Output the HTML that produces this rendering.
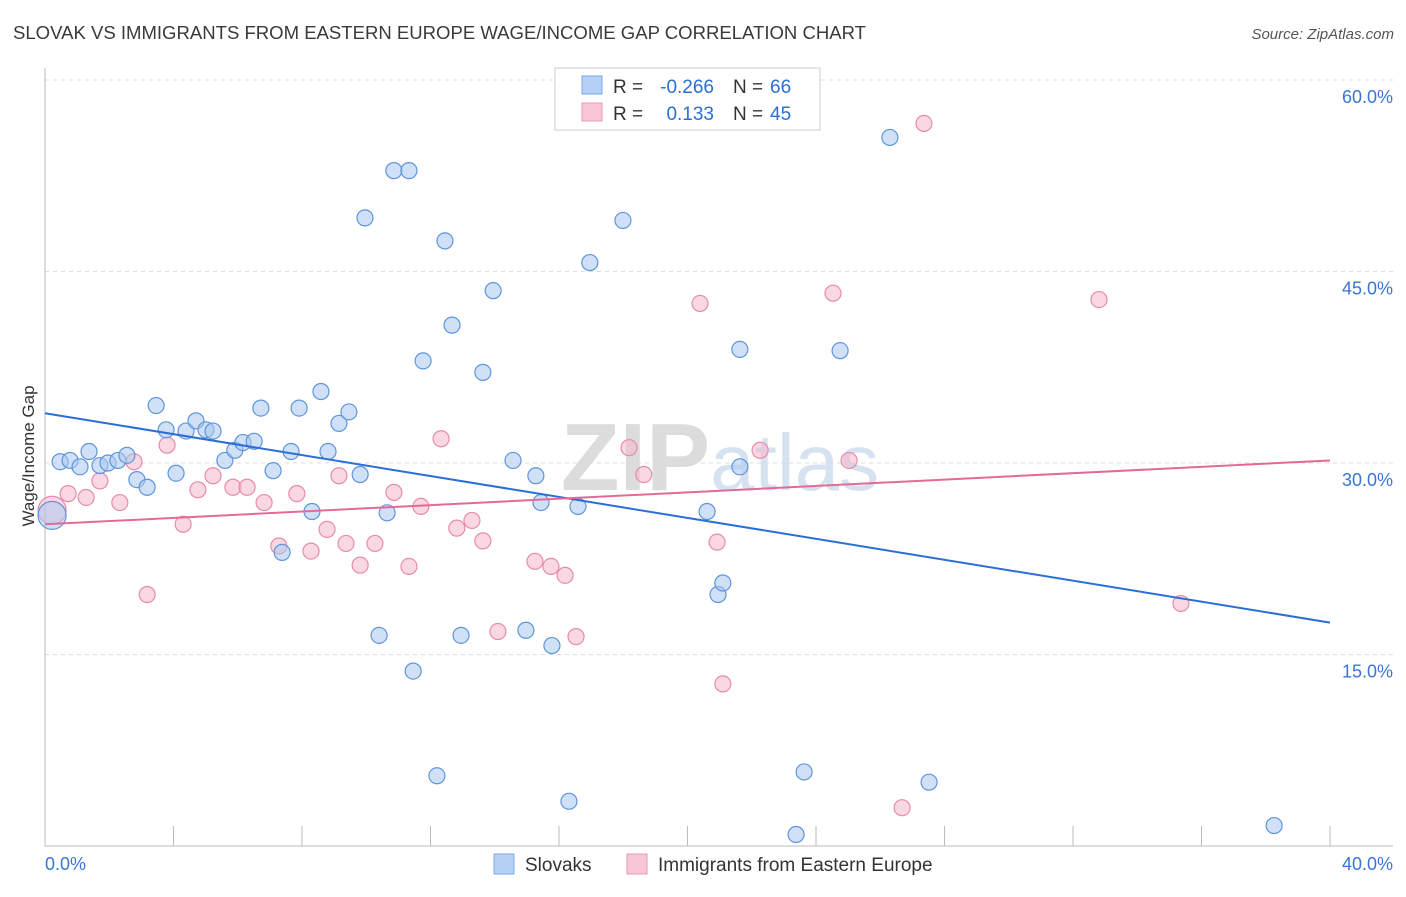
<!DOCTYPE html>
<html><head><meta charset="utf-8"><style>
body{margin:0;background:#fff;font-family:"Liberation Sans",sans-serif;}
svg text{font-family:"Liberation Sans",sans-serif;}
</style></head><body>
<svg id="chart" width="1406" height="892" xmlns="http://www.w3.org/2000/svg">
<text x="13" y="39" font-size="18.5" fill="#3a3a3a" textLength="853" lengthAdjust="spacingAndGlyphs">SLOVAK VS IMMIGRANTS FROM EASTERN EUROPE WAGE/INCOME GAP CORRELATION CHART</text>
<text x="1394" y="39" font-size="15" fill="#555" text-anchor="end" font-style="italic">Source: ZipAtlas.com</text>
<text x="720" y="490" font-size="96" fill="#e4e4e4" text-anchor="middle" font-family="Liberation Serif"><tspan font-weight="bold" fill="#dcdcdc">ZIP</tspan><tspan fill="#d6e2f0" font-family="Liberation Sans" font-size="80">atlas</tspan></text>
<g id="grid"></g>
<g id="axes"></g>
<g id="marks"></g>
<text transform="translate(34,456) rotate(-90)" font-size="17" fill="#333" text-anchor="middle">Wage/Income Gap</text>
<g font-size="19">
<rect x="555" y="68" width="265" height="62" fill="#fff" stroke="#ccc"/>
<rect x="582" y="76" width="20" height="18" fill="#b5d0f4" stroke="#7aa8e6"/>
<text x="613" y="93" fill="#333">R =</text>
<text x="714" y="93" fill="#2a6fd6" text-anchor="end">-0.266</text>
<text x="733" y="93" fill="#333">N =</text>
<text x="770" y="93" fill="#2a6fd6">66</text>
<rect x="582" y="103" width="20" height="18" fill="#f8c6d6" stroke="#ee9ab5"/>
<text x="613" y="120" fill="#333">R =</text>
<text x="714" y="120" fill="#2a6fd6" text-anchor="end">0.133</text>
<text x="733" y="120" fill="#333">N =</text>
<text x="770" y="120" fill="#2a6fd6">45</text>
</g>
<g>
<rect x="494" y="854" width="20" height="20" fill="#b5d0f4" stroke="#7aa8e6"/>
<text x="525" y="871" font-size="19" fill="#333">Slovaks</text>
<rect x="627" y="854" width="20" height="20" fill="#f8c6d6" stroke="#ee9ab5"/>
<text x="658" y="871" font-size="19" fill="#333">Immigrants from Eastern Europe</text>
</g>
</svg>
<script>
const slovakX=[0.22,0.47,0.78,1.09,1.37,1.71,1.96,2.27,2.55,2.86,3.18,3.46,3.77,4.08,4.39,4.70,5.01,5.23,5.60,5.91,6.16,6.51,6.72,7.10,7.38,7.66,7.91,8.31,8.59,8.81,9.15,9.46,9.81,9.96,10.40,10.65,10.86,11.33,11.46,11.77,12.20,12.45,12.67,12.95,13.63,13.95,14.57,14.97,15.28,15.44,15.78,16.31,16.59,16.96,17.99,20.61,20.95,21.10,21.63,21.63,23.38,23.63,24.75,26.30,27.52,38.26];
const slovakY=[25.9,30.1,30.2,29.7,30.9,29.8,30.0,30.2,30.6,28.7,28.1,34.5,32.6,29.2,32.5,33.3,32.6,32.5,30.2,31.0,31.6,31.7,34.3,29.4,23.0,30.9,34.3,26.2,35.6,30.9,33.1,34.0,29.1,49.2,16.5,26.1,52.9,52.9,13.7,38.0,5.5,47.4,40.8,16.5,37.1,43.5,30.2,16.9,29.0,26.9,15.7,3.5,26.6,45.7,49.0,26.2,19.7,20.6,29.7,38.9,0.9,5.8,38.8,55.5,5.0,1.6];
const immX=[0.22,0.72,1.28,1.71,2.33,2.77,3.18,3.80,4.30,4.76,5.23,5.85,6.29,6.82,7.28,7.84,8.28,8.78,9.15,9.37,9.81,10.27,10.86,11.33,11.70,12.33,12.82,13.29,13.63,14.10,15.25,15.75,16.19,16.53,18.18,18.64,20.39,20.92,21.10,22.26,24.53,25.03,26.68,27.36,32.81,35.36];
const immY=[26.3,27.6,27.3,28.6,26.9,30.1,19.7,31.4,25.2,27.9,29.0,28.1,28.1,26.9,23.5,27.6,23.1,24.8,29.0,23.7,22.0,23.7,27.7,21.9,26.6,31.9,24.9,25.5,23.9,16.8,22.3,21.9,21.2,16.4,31.2,29.1,42.5,23.8,12.7,31.0,43.3,30.2,3.0,56.6,42.8,19.0];
const slovakTrend=[33.9,17.5];
const immTrend=[25.2,30.2];
const yTicks=[15,30,45,60];
const yTickLabels=["15.0%","30.0%","45.0%","60.0%"];
const xTickLabels=["0.0%","40.0%"];

const NS="http://www.w3.org/2000/svg";
const X0=45,X1=1330,Y0=846;
function sx(v){return X0+(X1-X0)*v/40;}
function sy(v){return Y0-v*(191.5/15);}
function mk(tag,attrs,parent){const e=document.createElementNS(NS,tag);for(const k in attrs)e.setAttribute(k,attrs[k]);parent.appendChild(e);return e;}
const grid=document.getElementById('grid'),axes=document.getElementById('axes'),marks=document.getElementById('marks');
yTicks.forEach((t,i)=>{
  const l=mk('line',{x1:45,x2:1393,y1:sy(t),y2:sy(t),stroke:'#ddd','stroke-dasharray':'4,4'},grid);
  
  
  const tx=mk('text',{x:1393,y:sy(t)+23,'font-size':18,fill:'#3a76d0','text-anchor':'end'},axes);
  tx.textContent=yTickLabels[i];
  
  
});
const al=mk('line',{x1:45,x2:45,y1:68,y2:846,stroke:'#bbb'},axes);


const bl=mk('line',{x1:45,x2:1393,y1:846,y2:846,stroke:'#bbb'},axes);


for(let i=0;i<=10;i++){
  const t=mk('line',{x1:sx(i*4),x2:sx(i*4),y1:826,y2:846,stroke:'#bbb'},axes);
  
  
}
[[0,'start',45],[40,'end',1393]].forEach((d,i)=>{
  const tx=mk('text',{x:d[2],y:870,'font-size':18,fill:'#3a76d0','text-anchor':d[1]},axes);
  tx.textContent=xTickLabels[i];
  
  
});
function series(xs,ys,fill,stroke,name){
  xs.forEach((x,i)=>{
    const c=mk('circle',{cx:sx(x),cy:sy(ys[i]),r:i===0?14:8,fill:fill,'fill-opacity':0.55,stroke:stroke,'stroke-width':1.2},marks);
    
    
  });
}
series(immX,immY,'#f6b8cc','#e88bab','immigrants');
series(slovakX,slovakY,'#a9c8f0','#5f95dc','slovaks');
const t1=mk('line',{x1:sx(0),y1:sy(slovakTrend[0]),x2:sx(40),y2:sy(slovakTrend[1]),stroke:'#2a6fd6','stroke-width':2},marks);


const t2=mk('line',{x1:sx(0),y1:sy(immTrend[0]),x2:sx(40),y2:sy(immTrend[1]),stroke:'#e36a98','stroke-width':2},marks);


</script>
</body></html>
